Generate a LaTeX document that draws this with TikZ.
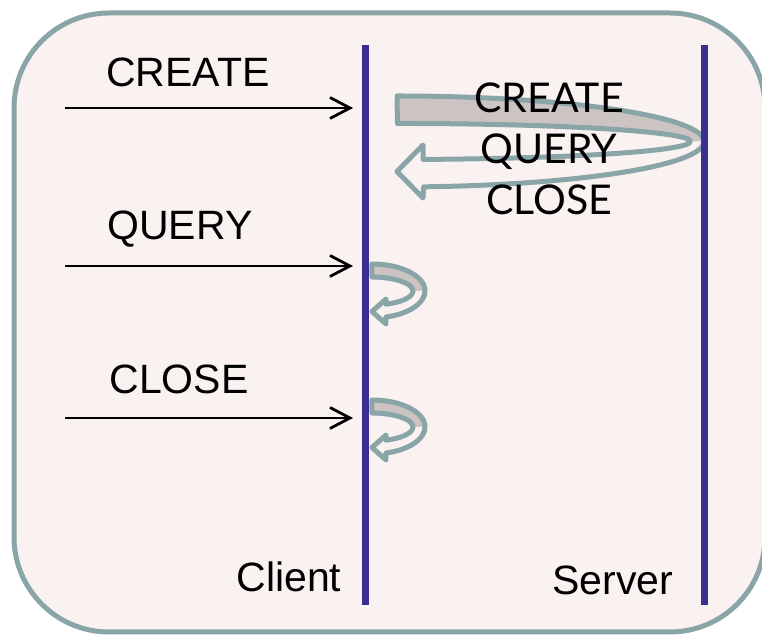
\documentclass[tikz,border=0pt]{standalone}
\usepackage{fontspec}
\setmainfont{Liberation Sans}
\newfontfamily\stackfont{Lato}
\usetikzlibrary{arrows.meta}

\definecolor{paper}{RGB}{250,242,241}
\definecolor{rim}{RGB}{138,165,167}
\definecolor{lifeblue}{RGB}{57,46,146}
\definecolor{bandgray}{RGB}{204,196,195}

\tikzset{
  lifeline/.style={lifeblue, line width=3.5pt},
  msg/.style={black, line width=1pt, -{Straight Barb[length=10pt, width=10.5pt, line width=1.4pt]}},
  label/.style={font=\fontsize{20.5}{24}\selectfont, inner sep=0pt},
  turn/.style={rim, line width=2.5pt, line join=round},
}

\begin{document}
\begin{tikzpicture}[x=0.5pt, y=-0.5pt]
    \useasboundingbox (0,0) rectangle (762,635);

    % outer frame
    \draw[rim, fill=paper, line width=2.5pt, rounded corners=47.5pt] (14,13) rectangle (765,632);

    % lifelines
    \coordinate (cTop) at (365.5,45);
    \coordinate (cBot) at (365.5,605);
    \coordinate (sTop) at (704,45);
    \coordinate (sBot) at (704,605);

    % big turn-around arrow: front face, then outline
    \fill[bandgray] (397,96) arc[start angle=-90, end angle=0, x radius=307, y radius=45.5]
        -- (690,141.5) arc[start angle=0, end angle=-90, x radius=293, y radius=18] -- cycle;
    \draw[turn] (397,96) arc[start angle=-90, end angle=85, x radius=307, y radius=45.5]
        -- (423,198) -- (397,171.5) -- (423,145) -- (423,159.4)
        arc[start angle=85, end angle=-90, x radius=293, y radius=18] -- cycle;

    % small turn-around arrows on the client
    \foreach \dy in {0,136} {
        \begin{scope}[shift={(0,\dy)}]
            \fill[bandgray] (372,264) arc[start angle=-90, end angle=0, x radius=53, y radius=27]
                -- (413,291) arc[start angle=0, end angle=-90, x radius=41, y radius=14] -- cycle;
            \draw[turn] (372,264) arc[start angle=-90, end angle=74.7, x radius=53, y radius=27]
                -- (386,324) -- (372,311.5) -- (386,299) -- (386,304.2)
                arc[start angle=70, end angle=-90, x radius=41, y radius=14] -- cycle;
        \end{scope}
    }

    \draw[lifeline] (cTop) -- (cBot);
    \draw[lifeline] (sTop) -- (sBot);

    % incoming calls
    \coordinate (createIn) at (65,108);
    \coordinate (createAt) at (353,108);
    \coordinate (queryIn) at (65,266);
    \coordinate (queryAt) at (353,266);
    \coordinate (closeIn) at (65,418);
    \coordinate (closeAt) at (353,418);
    \draw[msg] (createIn) -- (createAt);
    \draw[msg] (queryIn) -- (queryAt);
    \draw[msg] (closeIn) -- (closeAt);

    \node[label] (createLbl) at (188,72) {CREATE};
    \node[label] (queryLbl) at (180,229) {QUERY};
    \node[label] (closeLbl) at (179,379) {CLOSE};

    \node[label, font=\stackfont\fontsize{20.5}{25.5}\selectfont, align=center] (batchLbl) at (549,149)
        {CREATE\\QUERY\\CLOSE};

    \node[label] (clientLbl) at (289,577) {Client};
    \node[label] (serverLbl) at (613,580) {Server};
\end{tikzpicture}
\end{document}
